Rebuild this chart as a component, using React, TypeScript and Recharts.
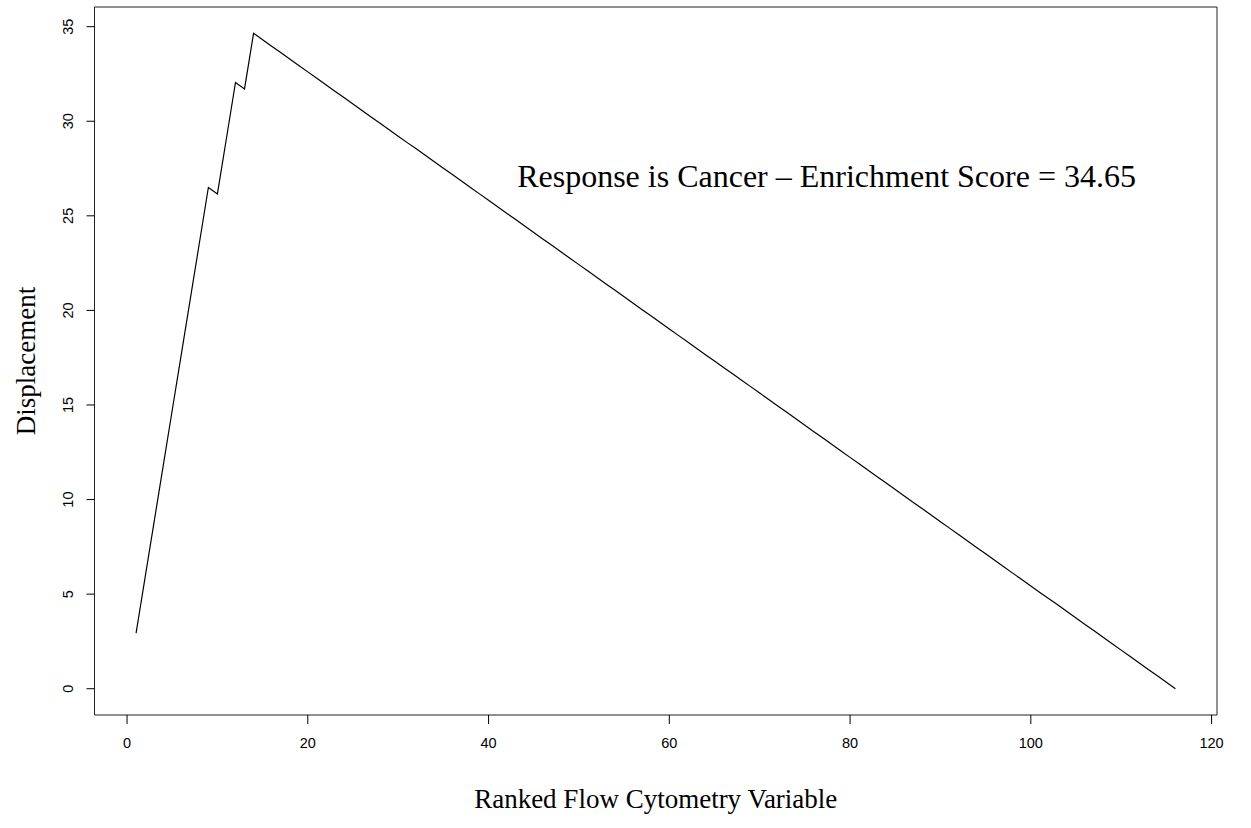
import React from 'react'
import {
  LineChart,
  Line,
  XAxis,
  YAxis,
  ReferenceArea,
  ReferenceDot,
  Label
} from 'recharts'

// rank of each flow cytometry variable
const ranks = [
  1, 2, 3, 4, 5, 6, 7, 8, 9, 10, 11, 12, 13, 14, 15, 16, 17, 18, 19, 20,
  21, 22, 23, 24, 25, 26, 27, 28, 29, 30, 31, 32, 33, 34, 35, 36, 37, 38, 39, 40,
  41, 42, 43, 44, 45, 46, 47, 48, 49, 50, 51, 52, 53, 54, 55, 56, 57, 58, 59, 60,
  61, 62, 63, 64, 65, 66, 67, 68, 69, 70, 71, 72, 73, 74, 75, 76, 77, 78, 79, 80,
  81, 82, 83, 84, 85, 86, 87, 88, 89, 90, 91, 92, 93, 94, 95, 96, 97, 98, 99, 100,
  101, 102, 103, 104, 105, 106, 107, 108, 109, 110, 111, 112, 113, 114, 115, 116
]

// running displacement
const displacement = [
  2.94, 5.89, 8.83, 11.78, 14.72, 17.66, 20.61, 23.55, 26.5, 26.16,
  29.1, 32.05, 31.71, 34.65, 34.31, 33.97, 33.63, 33.29, 32.95, 32.61,
  32.27, 31.93, 31.59, 31.25, 30.91, 30.57, 30.23, 29.89, 29.55, 29.21,
  28.87, 28.54, 28.2, 27.86, 27.52, 27.18, 26.84, 26.5, 26.16, 25.82,
  25.48, 25.14, 24.8, 24.46, 24.12, 23.78, 23.44, 23.1, 22.76, 22.42,
  22.08, 21.74, 21.4, 21.06, 20.72, 20.38, 20.04, 19.7, 19.36, 19.02,
  18.68, 18.34, 18.0, 17.66, 17.32, 16.98, 16.65, 16.31, 15.97, 15.63,
  15.29, 14.95, 14.61, 14.27, 13.93, 13.59, 13.25, 12.91, 12.57, 12.23,
  11.89, 11.55, 11.21, 10.87, 10.53, 10.19, 9.85, 9.51, 9.17, 8.83,
  8.49, 8.15, 7.81, 7.47, 7.13, 6.79, 6.45, 6.11, 5.77, 5.43,
  5.09, 4.76, 4.42, 4.08, 3.74, 3.4, 3.06, 2.72, 2.38, 2.04,
  1.7, 1.36, 1.02, 0.68, 0.34, 0.0
]

const xTicks = [0, 20, 40, 60, 80, 100, 120]
const yTicks = [0, 5, 10, 15, 20, 25, 30, 35]

const xDomain: [number, number] = [-3.6, 120.6]
const yDomain: [number, number] = [-1.39, 36.04]

const data = ranks.map((r, i) => ({ rank: r, value: displacement[i] }))

const sans = '"Liberation Sans", Arial, sans-serif'
const serif = '"Liberation Serif", "Times New Roman", serif'

// R draws the y tick labels turned on their side
const YTick = (props: any) => {
  const { x, y, payload } = props
  const tx = x - 11
  return (
    <text
      x={tx}
      y={y}
      transform={`rotate(-90, ${tx}, ${y})`}
      textAnchor="middle"
      fontSize={14.5}
      fontFamily={sans}
      fill="#000"
    >
      {payload.value}
    </text>
  )
}

export default function App() {
  return (
    <div style={{ position: 'absolute', left: 0, top: 0, background: '#fff' }}>
      <LineChart
        width={1251}
        height={828}
        data={data}
        margin={{ top: 7, right: 34, left: 0, bottom: 0 }}
      >
        <XAxis
          dataKey="rank"
          type="number"
          domain={xDomain}
          ticks={xTicks}
          allowDataOverflow
          axisLine={false}
          tickSize={9}
          tickLine={{ stroke: '#000' }}
          tick={{ fontSize: 14.5, fontFamily: sans, fill: '#000', dy: 12 }}
          height={113}
        >
          <Label
            value="Ranked Flow Cytometry Variable"
            position="insideBottom"
            offset={20}
            style={{ fontSize: 27, fontFamily: serif, fill: '#000' }}
          />
        </XAxis>
        <YAxis
          type="number"
          domain={yDomain}
          ticks={yTicks}
          allowDataOverflow
          axisLine={false}
          tickSize={8}
          tickLine={{ stroke: '#000' }}
          tick={<YTick />}
          width={94.5}
        >
          <Label
            value="Displacement"
            angle={-90}
            position="insideLeft"
            offset={25}
            style={{ fontSize: 27, fontFamily: serif, fill: '#000', textAnchor: 'middle' }}
          />
        </YAxis>
        <ReferenceArea
          x1={xDomain[0]}
          x2={xDomain[1]}
          y1={yDomain[0]}
          y2={yDomain[1]}
          fill="none"
          stroke="#222"
          strokeWidth={1}
          ifOverflow="visible"
        />
        <ReferenceDot x={77.4} y={27.1} r={0} fill="none" stroke="none">
          <Label
            value="Response is Cancer – Enrichment Score = 34.65"
            position="center"
            style={{ fontSize: 32, fontFamily: serif, fill: '#000' }}
          />
        </ReferenceDot>
        <Line
          type="linear"
          dataKey="value"
          stroke="#000"
          strokeWidth={1.2}
          dot={false}
          isAnimationActive={false}
        />
      </LineChart>
    </div>
  )
}
